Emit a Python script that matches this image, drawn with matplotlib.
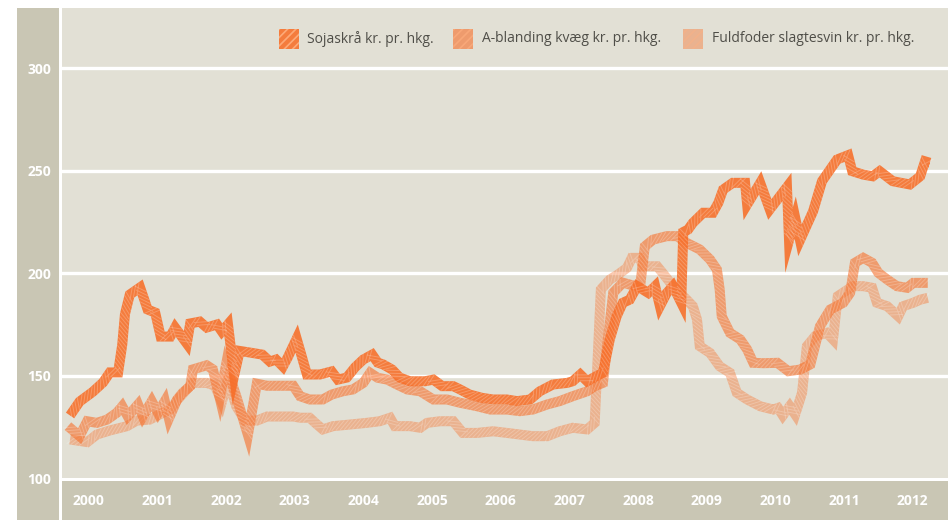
import matplotlib
matplotlib.use("Agg")
import matplotlib.pyplot as plt
from matplotlib.patches import Rectangle
from matplotlib.transforms import blended_transform_factory
from matplotlib import patheffects as pe

# ---------------- data ----------------
soja_x = [2000.03, 2000.17, 2000.36, 2000.51, 2000.61, 2000.73, 2000.79, 2000.83, 2000.90, 2001.05,
          2001.16, 2001.27, 2001.35, 2001.49, 2001.56, 2001.73, 2001.78, 2001.92, 2002.02, 2002.17,
          2002.24, 2002.33, 2002.42, 2002.50, 2002.65, 2002.83, 2002.94, 2003.03, 2003.13, 2003.20,
          2003.33, 2003.48, 2003.67, 2003.84, 2003.93, 2004.06, 2004.18, 2004.30, 2004.43, 2004.51,
          2004.59, 2004.72, 2004.83, 2004.98, 2005.20, 2005.32, 2005.45, 2005.61, 2005.71, 2005.85,
          2006.03, 2006.19, 2006.39, 2006.54, 2006.73, 2006.87, 2007.06, 2007.27, 2007.35, 2007.46,
          2007.56, 2007.65, 2007.79, 2007.89, 2007.99, 2008.08, 2008.18, 2008.29, 2008.45, 2008.55,
          2008.62, 2008.72, 2008.81, 2008.93, 2008.96, 2009.03, 2009.10, 2009.25, 2009.39, 2009.47,
          2009.54, 2009.68, 2009.86, 2009.89, 2010.08, 2010.22, 2010.47, 2010.50, 2010.59, 2010.66,
          2010.85, 2010.98, 2011.20, 2011.36, 2011.42, 2011.58, 2011.72, 2011.82, 2012.01, 2012.26,
          2012.41, 2012.48, 2012.55]
soja_y = [130.5, 137.3, 142, 146.6, 151.5, 151.5, 165, 180, 189.5, 193,
          182.2, 180.7, 169, 169, 173.4, 165.6, 175.4, 176.3, 173.4, 174.9,
          171.5, 175, 150, 162, 161.2, 160.2, 156.8, 157.8, 154.4, 158.8,
          168, 150.5, 150.5, 152, 148, 149, 154, 157.8, 160.2, 156.3,
          155.4, 152.9, 149, 147.2, 147.2, 148, 144.8, 144.8, 143.2, 140.7,
          139.1, 138.3, 138.3, 137.5, 138.3, 142.3, 145.6, 146.4, 147.2, 150.5,
          147.2, 148.9, 151.3, 167.6, 178.9, 185.5, 187, 193.6, 190.3, 193.6,
          183.8, 190.3, 193.6, 185.5, 220, 221.2, 224.5, 229.4, 229.4, 234.2,
          240.7, 244, 244, 233.4, 244, 231, 242, 216, 227, 216,
          230.1, 244.8, 255.4, 257.5, 249.7, 248, 247.2, 249.7, 244.8, 243.2,
          247.2, 254.5, 253.8]

abl_x = [2000.00, 2000.17, 2000.28, 2000.42, 2000.57, 2000.71, 2000.79, 2000.87, 2001.02, 2001.09,
         2001.22, 2001.31, 2001.41, 2001.47, 2001.59, 2001.67, 2001.78, 2001.82, 2002.02, 2002.11,
         2002.21, 2002.30, 2002.45, 2002.62, 2002.75, 2002.90, 2003.28, 2003.38, 2003.52, 2003.71,
         2003.84, 2004.00, 2004.15, 2004.30, 2004.40, 2004.51, 2004.65, 2004.79, 2004.94, 2005.13,
         2005.32, 2005.52, 2005.71, 2005.96, 2006.15, 2006.39, 2006.58, 2006.77, 2006.98, 2007.16,
         2007.35, 2007.56, 2007.67, 2007.79, 2007.94, 2008.08, 2008.33, 2008.40, 2008.52, 2008.72,
         2008.87, 2009.01, 2009.20, 2009.35, 2009.45, 2009.49, 2009.52, 2009.64, 2009.79, 2009.89,
         2009.98, 2010.13, 2010.33, 2010.49, 2010.66, 2010.81, 2010.95, 2011.10, 2011.29, 2011.39,
         2011.46, 2011.58, 2011.71, 2011.80, 2011.93, 2012.07, 2012.22, 2012.31, 2012.44, 2012.52]
abl_y = [125.3, 120.4, 127.7, 126.9, 128.5, 131.8, 135, 130.1, 135.9, 130.1,
         137.5, 131.8, 137.5, 129, 138.3, 141.6, 144.8, 153, 155, 153,
         139, 155, 140, 121, 146, 145, 145, 139.9, 138.3, 138.3,
         140.7, 142.3, 143.2, 146.4, 151.3, 148.9, 148, 145.6, 143.2, 142.3,
         138.3, 138.3, 136.7, 135, 133.4, 133.4, 132.6, 133.4, 135.9, 137.5,
         139.9, 142.3, 144.8, 146.4, 190.4, 195.3, 193, 213, 216.3, 218,
         218, 214.7, 211.5, 206.6, 201.7, 192, 178.9, 170.8, 167.6, 162.7,
         156.2, 156, 156.2, 152.1, 152.9, 155.4, 174, 182.2, 185.5, 190.3,
         205, 207.4, 205, 200.1, 196.8, 193.6, 192.8, 195.2, 195.2, 195.2]

fuld_x = [2000.03, 2000.28, 2000.42, 2000.61, 2000.86, 2001.00, 2001.19, 2001.38, 2001.49, 2001.59,
          2001.73, 2001.82, 2002.02, 2002.14, 2002.24, 2002.33, 2002.45, 2002.58, 2002.75, 2002.90,
          2003.28, 2003.38, 2003.52, 2003.60, 2003.71, 2003.86, 2004.11, 2004.35, 2004.54, 2004.69,
          2004.76, 2004.98, 2005.13, 2005.23, 2005.42, 2005.61, 2005.75, 2005.96, 2006.19, 2006.39,
          2006.58, 2006.77, 2006.98, 2007.16, 2007.35, 2007.56, 2007.67, 2007.76, 2007.89, 2008.01,
          2008.14, 2008.21, 2008.33, 2008.37, 2008.58, 2008.66, 2008.81, 2009.01, 2009.10, 2009.16,
          2009.20, 2009.35, 2009.49, 2009.64, 2009.74, 2009.89, 2010.08, 2010.27, 2010.34, 2010.41,
          2010.51, 2010.59, 2010.69, 2010.76, 2010.88, 2011.05, 2011.14, 2011.21, 2011.43, 2011.58,
          2011.71, 2011.78, 2011.93, 2012.09, 2012.16, 2012.31, 2012.41, 2012.52]
fuld_y = [118.8, 117.5, 121.2, 123.2, 125.3, 128, 128.5, 131.8, 133.4, 138,
          143.2, 146.4, 146.4, 145, 137, 148, 135, 128, 128, 130,
          130, 129.4, 129.4, 126.9, 123.7, 125.3, 126.1, 126.9, 127.7, 129.4,
          125.3, 125.3, 124.5, 126.9, 127.7, 127.7, 122, 122, 122.8, 122,
          121.2, 120.4, 120.4, 122.8, 124.5, 123.7, 126.9, 192, 196.8, 199.3,
          202.5, 207.4, 207.4, 203.3, 203.3, 200, 193.6, 187, 183.8, 177.3,
          164.3, 161, 154.5, 151.3, 141.6, 138.3, 135, 133.4, 134.2, 130.5,
          135, 131, 141.6, 164.3, 169.2, 170.8, 167.6, 188.7, 193.6, 193.6,
          192.8, 185.5, 183.8, 178.9, 183.8, 185.5, 187, 187.9]

series_labels = ["Sojaskrå kr. pr. hkg.", "A-blanding kvæg kr. pr. hkg.",
                 "Fuldfoder slagtesvin kr. pr. hkg."]
years = list(range(2000, 2013))
y_ticks = [100, 150, 200, 250, 300]

# ---------------- styling ----------------
W, H = 948, 520
BAND = '#c9c6b4'
BG = '#e2e0d5'
ORANGE = '#f76e28'
ALPHAS = [0.88, 0.6, 0.4]
TEXT = '#4f4e48'
plt.rcParams['font.family'] = ['Open Sans', 'DejaVu Sans']
plt.rcParams['hatch.linewidth'] = 1.2


def fx(px):
    return px / W


def fy(py):
    return 1 - py / H


fig = plt.figure(figsize=(W / 100, H / 100), dpi=100)
fig.patch.set_facecolor('white')

# side and bottom bands (behind the axes)
fig.patches.append(Rectangle((fx(17), 0), fx(59) - fx(17), fy(8), transform=fig.transFigure,
                             facecolor=BAND, edgecolor='none', zorder=-5))
fig.patches.append(Rectangle((fx(62), 0), 1 - fx(62), fy(481), transform=fig.transFigure,
                             facecolor=BAND, edgecolor='none', zorder=-5))

ax = fig.add_axes([fx(62), fy(478), 1 - fx(62), fy(8) - fy(478)])
ax.set_facecolor(BG)
ax.set_xlim(1999.913, 2012.815)
ax.set_ylim(100, 329.3)
for s in ax.spines.values():
    s.set_visible(False)

for v in y_ticks[1:]:
    ax.axhline(v, color='white', lw=2.4, zorder=1)

ax.set_xticks([])
ax.set_yticks(y_ticks)
ax.set_yticklabels([str(v) for v in y_ticks])
ax.tick_params(axis='y', length=0, pad=7.9, labelcolor='white', labelsize=10)
for t in ax.get_yticklabels():
    t.set_fontweight('bold')

trans = blended_transform_factory(ax.transData, fig.transFigure)
for yr in years:
    ax.text(yr + 0.07, fy(501), str(yr), transform=trans, ha='left', va='center',
            color='white', fontsize=10, fontweight='bold', clip_on=False, zorder=10)

# series (lightest at the back), with a faint diagonal stripe texture
data = [(soja_x, soja_y), (abl_x, abl_y), (fuld_x, fuld_y)]
for i in [2, 1, 0]:
    xs, ys = data[i]
    stripes = [pe.Normal(),
               pe.TickedStroke(spacing=3.0, angle=45, length=1.6, linewidth=0.7,
                               foreground='white', alpha=0.22),
               pe.TickedStroke(spacing=3.0, angle=-135, length=1.6, linewidth=0.7,
                               foreground='white', alpha=0.22)]
    ax.plot(xs, ys, color=ORANGE, alpha=ALPHAS[i], lw=7.2, solid_joinstyle='miter',
            solid_capstyle='butt', zorder=3 + (2 - i), path_effects=stripes)

# legend
patch_x = [279, 453, 683]
text_x = [307, 482, 712]
for i, lab in enumerate(series_labels):
    fig.patches.append(Rectangle((fx(patch_x[i]), fy(49)), 20 / W, 20 / H, transform=fig.transFigure,
                                 facecolor=ORANGE, alpha=ALPHAS[i], edgecolor='#ffb080',
                                 lw=0, hatch='////', zorder=5))
    fig.text(fx(text_x[i]), fy(39), lab, ha='left', va='center', color=TEXT, fontsize=10)

fig.savefig('out.png', dpi=100, facecolor='white')
